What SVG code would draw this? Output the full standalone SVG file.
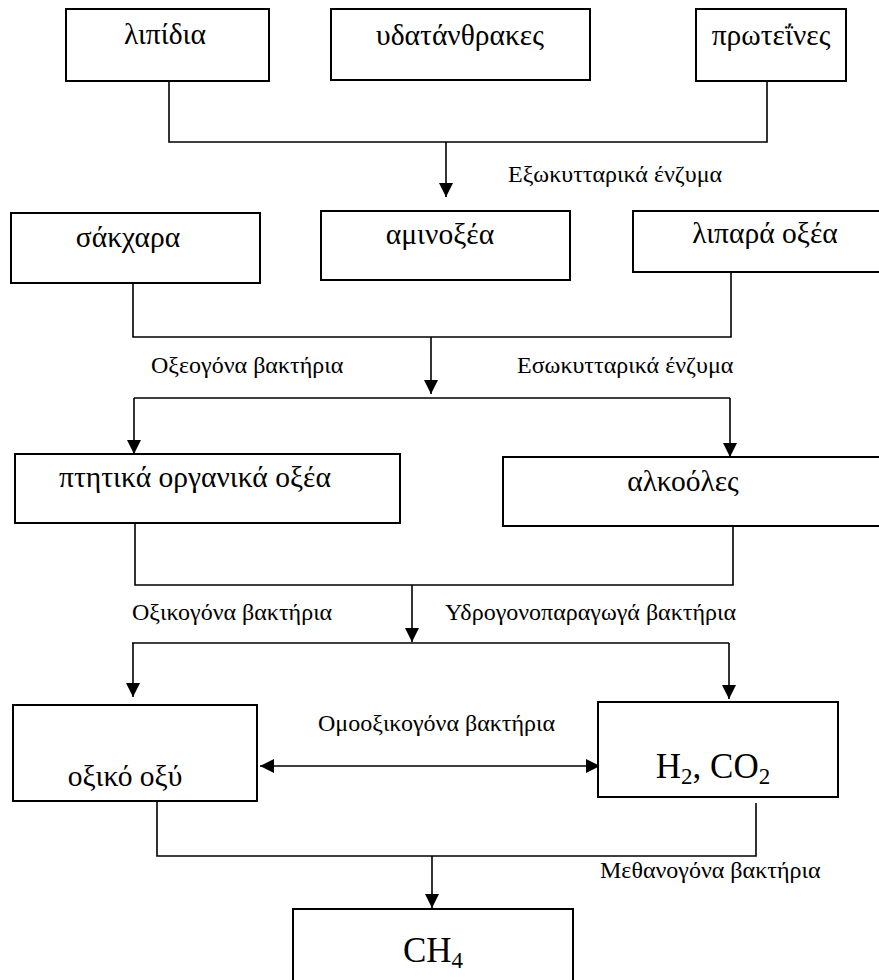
<svg xmlns="http://www.w3.org/2000/svg" width="879" height="980" viewBox="0 0 879 980">
<style>
.box{fill:#fff;stroke:#000;stroke-width:2}
.t{font-family:"Liberation Serif","Times New Roman",serif;font-size:29.5px;fill:#000;text-anchor:middle}
.big{font-family:"Liberation Serif","Times New Roman",serif;font-size:35px;fill:#000;text-anchor:middle}
.lbl{font-family:"Liberation Serif","Times New Roman",serif;font-size:24px;fill:#000}
.ln{fill:none;stroke:#000;stroke-width:1.6}
</style>
<defs>
<marker id="ah" viewBox="0 0 14 14" refX="14" refY="7" markerWidth="14" markerHeight="14" orient="auto-start-reverse" markerUnits="userSpaceOnUse"><path d="M0,0 L14,7 L0,14 z" fill="#000"/></marker>
</defs>
<g id="connectors">
<path class="ln" d="M169,81 V142 H767 V81"/>
<line class="ln" x1="446" y1="142" x2="446" y2="197" marker-end="url(#ah)"/>
<path class="ln" d="M133,283 V337 H731 V272"/>
<line class="ln" x1="431" y1="337" x2="431" y2="394" marker-end="url(#ah)"/>
<path class="ln" d="M134,398 H730"/>
<line class="ln" x1="134" y1="398" x2="134" y2="454" marker-end="url(#ah)"/>
<line class="ln" x1="730" y1="398" x2="730" y2="457" marker-end="url(#ah)"/>
<path class="ln" d="M135,523 V585 H733 V526"/>
<line class="ln" x1="412" y1="585" x2="412" y2="642" marker-end="url(#ah)"/>
<path class="ln" d="M132,643 H729"/>
<line class="ln" x1="133" y1="643" x2="133" y2="697" marker-end="url(#ah)"/>
<line class="ln" x1="729" y1="643" x2="729" y2="699" marker-end="url(#ah)"/>
<line class="ln" x1="260" y1="766" x2="600" y2="766" marker-start="url(#ah)" marker-end="url(#ah)"/>
<path class="ln" d="M157,801 V856 H756 V803"/>
<line class="ln" x1="432" y1="856" x2="432" y2="908" marker-end="url(#ah)"/>
</g>
<g id="labels">
<text class="lbl" x="508" y="182">Εξωκυτταρικά ένζυμα</text>
<text class="lbl" x="151" y="373">Οξεογόνα βακτήρια</text>
<text class="lbl" x="517" y="373">Εσωκυτταρικά ένζυμα</text>
<text class="lbl" x="132" y="620">Οξικογόνα βακτήρια</text>
<text class="lbl" x="445" y="620">Υδρογονοπαραγωγά βακτήρια</text>
<text class="lbl" x="318" y="731">Ομοοξικογόνα βακτήρια</text>
<text class="lbl" x="600" y="878">Μεθανογόνα βακτήρια</text>
</g>
<g id="lipidia"><rect class="box" x="66" y="9" width="203" height="72"/><text class="t" x="165" y="44">λιπίδια</text></g>
<g id="ydatanthrakes"><rect class="box" x="331" y="9" width="259" height="71"/><text class="t" x="460" y="45">υδατάνθρακες</text></g>
<g id="proteines"><rect class="box" x="696" y="9" width="150" height="72"/><text class="t" x="771" y="45">πρωτεΐνες</text></g>
<g id="sakchara"><rect class="box" x="11" y="213" width="249" height="70"/><text class="t" x="128" y="247">σάκχαρα</text></g>
<g id="aminoxea"><rect class="box" x="321" y="211" width="249" height="69"/><text class="t" x="440" y="244">αμινοξέα</text></g>
<g id="lipara"><rect class="box" x="633" y="211" width="260" height="61"/><text class="t" x="765" y="243">λιπαρά οξέα</text></g>
<g id="ptitika"><rect class="box" x="15" y="454" width="385" height="69"/><text class="t" x="195" y="487">πτητικά οργανικά οξέα</text></g>
<g id="alkooles"><rect class="box" x="503" y="457" width="390" height="69"/><text class="t" x="683" y="491">αλκοόλες</text></g>
<g id="oxiko"><rect class="box" x="13" y="705" width="244" height="96"/><text class="t" x="125" y="786">οξικό οξύ</text></g>
<g id="h2co2"><rect class="box" x="598" y="702" width="240" height="95"/><text class="big" x="713" y="778">H<tspan font-size="23" dy="6">2</tspan><tspan dy="-6">, CO</tspan><tspan font-size="23" dy="6">2</tspan></text></g>
<g id="ch4"><rect class="box" x="293" y="909" width="280" height="90"/><text class="big" x="433" y="962">CH<tspan font-size="23" dy="6">4</tspan></text></g>
</svg>
